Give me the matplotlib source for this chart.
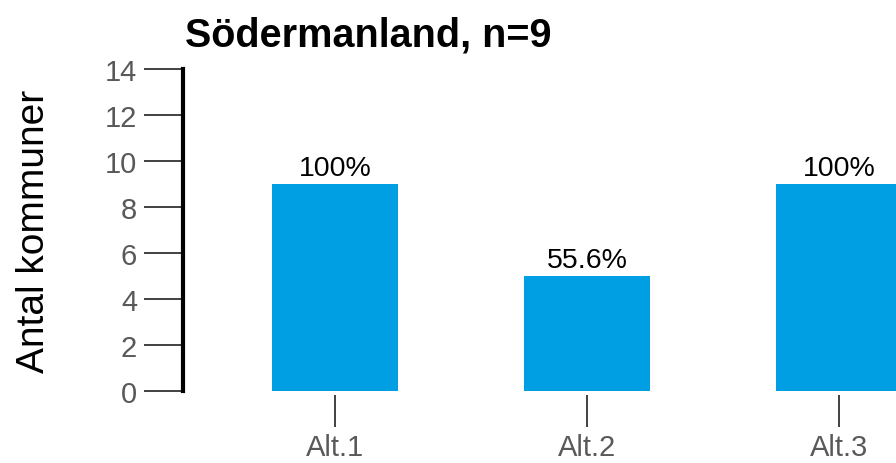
import numpy as np
import matplotlib.pyplot as plt

plt.rcParams['font.family'] = ['Liberation Sans', 'DejaVu Sans']

categories = ['Alt.1', 'Alt.2', 'Alt.3']
counts = [9, 5, 9]
labels = ['100%', '55.6%', '100%']
title = 'Södermanland, n=9'

fig = plt.figure(figsize=(8.96, 4.64), dpi=100)
# axes placed in pixel terms: left spine at x=183, y from 70 to 392
ax = fig.add_axes([183/896, 72/464, 1 - 183/896, 322/464])

x = np.arange(len(categories))
bars = ax.bar(x, counts, width=0.5, color='#009FE3')
ax.bar_label(bars, labels=labels, padding=2, fontsize=20.5, color='black')

ax.set_xlim(-0.603, 2.226)
ax.set_ylim(0, 14)
ax.set_yticks(range(0, 15, 2))
ax.set_xticks(x)
ax.set_xticklabels(categories)

for s in ['top', 'right']:
    ax.spines[s].set_visible(False)
ax.spines['bottom'].set_position(('outward', 3))
ax.spines['bottom'].set_visible(False)
ax.spines['left'].set_linewidth(3)
ax.spines['left'].set_color('black')

ax.tick_params(axis='y', length=28, width=1.3, color='#333333',
               labelsize=21, labelcolor='#595959', pad=5)
ax.tick_params(axis='x', length=23, width=1.3, color='#333333',
               labelsize=21, labelcolor='#595959', pad=4)

ax.set_ylabel('Antal kommuner', fontsize=28, labelpad=38)
fig.text(185/896, 1 - 47/464, title, fontsize=28.5, fontweight='bold',
         ha='left', va='baseline')

fig.savefig('out.png', dpi=100)
